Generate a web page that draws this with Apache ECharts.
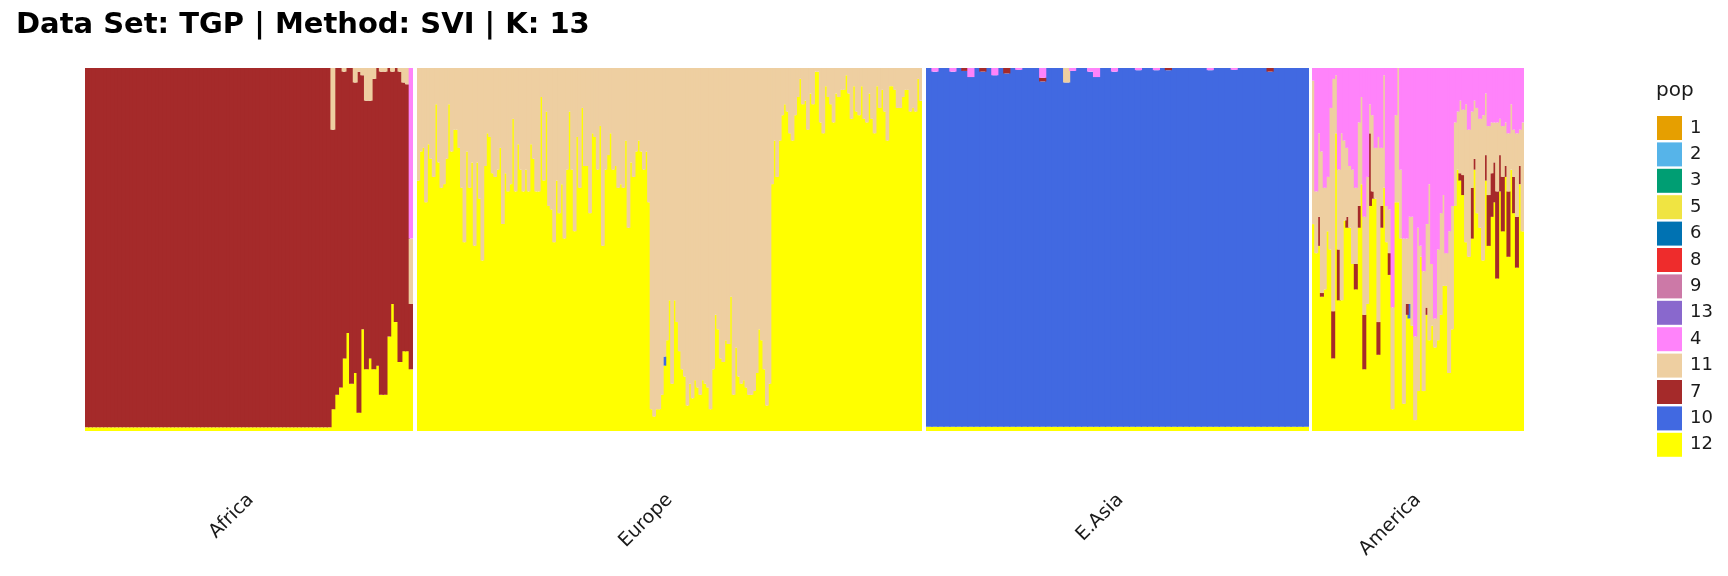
<!DOCTYPE html>
<html>
<head>
<meta charset="utf-8">
<script src="https://cdn.jsdelivr.net/npm/echarts@6/dist/echarts.min.js"></script>
<style>html,body{margin:0;padding:0;background:#fff;}#c{width:1728px;height:576px;}</style>
</head>
<body>
<div id="c"></div>
<script>
// ---------- DATA ----------
const regions = ['Africa', 'Europe', 'E.Asia', 'America'];
const legendOrder = ['1','2','3','5','6','8','9','13','4','11','7','10','12'];
const stackOrder = ['12','10','7','11','4','13','9','8','6','5','3','2','1'];
const popColors = {
  '1':'#E69F00','2':'#56B4E9','3':'#009E73','5':'#F0E442','6':'#0072B2','8':'#EE2C2C',
  '9':'#CC79A7','13':'#8968CD','4':'#FF83FA','11':'#EECFA1','7':'#A52A2A','10':'#4169E1','12':'#FFFF00'
};

// Africa (88 individuals, sampled)
const africa_k12 = [
  .01,.01,.01,.01,.01,.01,.01,.01,.01,.01,.01,.01,.01,.01,.01,.01,.01,.01,.01,.01,.01,.01,
  .01,.01,.01,.01,.01,.01,.01,.01,.01,.01,.01,.01,.01,.01,.01,.01,.01,.01,.01,.01,.01,.01,
  .01,.01,.01,.01,.01,.01,.01,.01,.01,.01,.01,.01,.01,.01,.01,.01,.01,.01,.01,.01,.01,.01,
  .06,.10,.12,.20,.27,.13,.16,.05,.28,.17,.20,.17,.18,.10,.10,.26,.35,.30,.19,.22,.22,.17];
const africa_k7 = [
  .99,.99,.99,.99,.99,.99,.99,.99,.99,.99,.99,.99,.99,.99,.99,.99,.99,.99,.99,.99,.99,.99,
  .99,.99,.99,.99,.99,.99,.99,.99,.99,.99,.99,.99,.99,.99,.99,.99,.99,.99,.99,.99,.99,.99,
  .99,.99,.99,.99,.99,.99,.99,.99,.99,.99,.99,.99,.99,.99,.99,.99,.99,.99,.99,.99,.99,.99,
  .77,.90,.88,.79,.73,.87,.80,.94,.70,.74,.71,.80,.82,.89,.89,.74,.64,.70,.80,.74,.735,.18];
const africa_k11 = [
  0,0,0,0,0,0,0,0,0,0,0,0,0,0,0,0,0,0,0,0,0,0,
  0,0,0,0,0,0,0,0,0,0,0,0,0,0,0,0,0,0,0,0,0,0,
  0,0,0,0,0,0,0,0,0,0,0,0,0,0,0,0,0,0,0,0,0,0,
  .17,0,0,.01,0,0,.04,.01,.02,.09,.09,.03,0,.01,.01,0,.01,0,.01,.04,.045,.18];
const africa_k4 = [
  0,0,0,0,0,0,0,0,0,0,0,0,0,0,0,0,0,0,0,0,0,0,
  0,0,0,0,0,0,0,0,0,0,0,0,0,0,0,0,0,0,0,0,0,0,
  0,0,0,0,0,0,0,0,0,0,0,0,0,0,0,0,0,0,0,0,0,0,
  0,0,0,0,0,0,0,0,0,0,0,0,0,0,0,0,0,0,0,0,0,.47];

// Europe (197 individuals: 91 + 47 + 59)
const europe_k12 = [
  .69,.77,.78,.63,.79,.75,.70,.90,.74,.67,
  .68,.75,.90,.77,.83,.83,.78,.67,.52,.77,
  .67,.74,.51,.74,.64,.47,.73,.82,.81,.71,
  .70,.72,.78,.57,.71,.66,.68,.86,.66,.79,
  .72,.66,.72,.66,.79,.75,.66,.66,.92,.69,
  .88,.62,.61,.52,.69,.60,.68,.53,.72,.88,
  .72,.55,.81,.67,.89,.73,.73,.60,.82,.81,
  .72,.84,.51,.72,.76,.82,.72,.73,.67,.68,
  .67,.80,.56,.74,.70,.77,.80,.77,.72,.77,.63,
  .06,.04,.06,.06,.10,.18,.25,.36,.13,.36,
  .30,.22,.17,.15,.07,.13,.09,.14,.12,.10,
  .14,.13,.12,.06,.17,.32,.28,.20,.19,.25,
  .24,.37,.10,.23,.15,.13,.14,.12,.10,.10,
  .11,.16,.28,.25,.17,.07,.13,
  .68,.80,.70,.80,.87,.90,.88,.82,.80,.87,
  .92,.97,.90,.91,.83,.93,.90,.99,.99,.85,
  .82,.95,.92,.90,.85,.93,.92,.94,.94,.98,
  .93,.86,.95,.88,.87,.95,.86,.85,.93,.86,
  .82,.95,.89,.94,.88,.80,.95,.95,.94,.89,
  .89,.92,.94,.94,.88,.89,.88,.97,.91];
const europe_k10 = [
  0,0,0,0,0,0,0,0,0,0, 0,0,0,0,0,0,0,0,0,0, 0,0,0,0,0,0,0,0,0,0,
  0,0,0,0,0,0,0,0,0,0, 0,0,0,0,0,0,0,0,0,0, 0,0,0,0,0,0,0,0,0,0,
  0,0,0,0,0,0,0,0,0,0, 0,0,0,0,0,0,0,0,0,0, 0,0,0,0,0,0,0,0,0,0,0,
  0,0,0,0,0,.025,0,0,0,0, 0,0,0,0,0,0,0,0,0,0, 0,0,0,0,0,0,0,0,0,0,
  0,0,0,0,0,0,0,0,0,0, 0,0,0,0,0,0,0,
  0,0,0,0,0,0,0,0,0,0, 0,0,0,0,0,0,0,0,0,0, 0,0,0,0,0,0,0,0,0,0,
  0,0,0,0,0,0,0,0,0,0, 0,0,0,0,0,0,0,0,0,0, 0,0,0,0,0,0,0,0,0];
const europe_k11 = [
  .31,.23,.22,.37,.21,.25,.30,.10,.26,.33,
  .32,.25,.10,.23,.17,.17,.22,.33,.48,.23,
  .33,.26,.49,.26,.36,.53,.27,.18,.19,.29,
  .30,.28,.22,.43,.29,.34,.32,.14,.34,.21,
  .28,.34,.28,.34,.21,.25,.34,.34,.08,.31,
  .12,.38,.39,.48,.31,.40,.32,.47,.28,.12,
  .28,.45,.19,.33,.11,.27,.27,.40,.18,.19,
  .28,.16,.49,.28,.24,.18,.28,.27,.33,.32,
  .33,.20,.44,.26,.30,.23,.20,.23,.28,.23,.37,
  .94,.96,.94,.94,.90,.795,.75,.64,.87,.64,
  .70,.78,.83,.85,.93,.87,.91,.86,.88,.90,
  .86,.87,.88,.94,.83,.68,.72,.80,.81,.75,
  .76,.63,.90,.77,.85,.87,.86,.88,.90,.90,
  .89,.84,.72,.75,.83,.93,.87,
  .32,.20,.30,.20,.13,.10,.12,.18,.20,.13,
  .08,.03,.10,.09,.17,.07,.10,.01,.01,.15,
  .18,.05,.08,.10,.15,.07,.08,.06,.06,.02,
  .07,.14,.05,.12,.13,.05,.14,.15,.07,.14,
  .18,.05,.11,.06,.12,.20,.05,.05,.06,.11,
  .11,.08,.06,.06,.12,.11,.12,.03,.09];

// E.Asia (64 individuals, sampled)
const easia_k12 = [
  .012,.012,.012,.012,.012,.012,.012,.012,.012,.012,.012,.012,.012,.012,.012,.012,
  .012,.012,.012,.012,.012,.012,.012,.012,.012,.012,.012,.012,.012,.012,.012,.012,
  .012,.012,.012,.012,.012,.012,.012,.012,.012,.012,.012,.012,.012,.012,.012,.012,
  .012,.012,.012,.012,.012,.012,.012,.012,.012,.012,.012,.012,.012,.012,.012,.012];
const easia_k10 = [
  .988,.978,.988,.988,.978,.988,.980,.963,.988,.978,.988,.968,.988,.973,.988,.983,
  .988,.988,.988,.951,.988,.988,.988,.948,.980,.988,.988,.978,.963,.988,.988,.978,
  .988,.988,.988,.982,.988,.988,.982,.988,.982,.988,.988,.988,.988,.988,.988,.982,
  .988,.988,.988,.983,.988,.988,.988,.988,.988,.978,.988,.988,.988,.988,.988,.988];
const easia_k7 = [
  0,0,0,0,0,0,.008,0,0,.01,0,0,0,.015,0,0,
  0,0,0,.01,0,0,0,0,0,0,0,0,0,0,0,0,
  0,0,0,0,0,0,0,0,.006,0,0,0,0,0,0,0,
  0,0,0,0,0,0,0,0,0,.01,0,0,0,0,0,0];
const easia_k11 = [
  0,0,0,0,0,0,0,0,0,0,0,0,0,0,0,0,
  0,0,0,0,0,0,0,.04,0,0,0,0,0,0,0,0,
  0,0,0,0,0,0,0,0,0,0,0,0,0,0,0,0,
  0,0,0,0,0,0,0,0,0,0,0,0,0,0,0,0];
const easia_k4 = [
  0,.01,0,0,.01,0,0,.025,0,0,0,.02,0,0,0,.005,
  0,0,0,.027,0,0,0,0,.008,0,0,.01,.025,0,0,.01,
  0,0,0,.006,0,0,.006,0,0,0,0,0,0,0,0,.006,
  0,0,0,.005,0,0,0,0,0,0,0,0,0,0,0,0];

// America (75 individuals, sampled)
const america_k12 = [
  .57,.49,.51,.37,.39,.55,.50,.20,.82,.36,.36,.58,.56,.56,.46,.39,.56,.68,.17,.35,
  .62,.64,.64,.21,.56,.67,.52,.43,.06,.63,.63,.53,.075,.32,.31,.29,.03,.11,.48,.11,
  .32,.25,.29,.23,.25,.32,.40,.40,.16,.28,.62,.72,.69,.65,.52,.48,.53,.72,.60,.56,
  .47,.69,.51,.59,.63,.42,.66,.55,.70,.48,.72,.60,.45,.68,.55];
const america_k10 = [
  0,0,0,0,0,0,0,0,0,0,0,0,0,0,0,0,0,0,0,0,
  0,0,0,0,0,0,0,0,0,0,0,0,0,0,.04,0,0,0,0,0,
  0,0,0,0,0,0,0,0,0,0,0,0,0,0,0,0,0,0,0,0,
  0,0,0,0,0,0,0,0,0,0,0,0,0,0,0];
const america_k7 = [
  0,0,.08,.01,0,0,0,.13,0,.14,0,0,.03,0,0,.07,.06,0,.15,0,
  .20,.02,0,.09,.06,0,0,.06,0,0,0,0,0,.03,0,0,0,0,0,0,
  .02,0,0,0,0,0,0,0,0,0,0,0,.02,.055,0,0,.14,.03,0,0,
  0,.07,.14,.12,.11,.24,.10,.15,.03,.18,0,.10,.14,.05,0];
const america_k11 = [
  .395,.17,.23,.39,.28,.15,.39,.64,.16,.22,.46,.22,.19,.17,.26,.21,.23,.24,.27,.35,
  .08,.21,.14,.51,.16,.31,.10,.12,.28,.24,.37,.19,.455,.18,.24,.30,.23,.45,.03,.33,
  .23,.43,.17,.08,.25,.28,.25,.09,.39,.34,.23,.16,.20,.18,.38,.35,.21,.16,.29,.30,
  .40,.17,.19,.14,.11,.19,.10,.14,.12,.16,.18,.13,.23,.10,.30];
const america_k4 = [
  .035,.34,.18,.23,.33,.30,.11,.03,.02,.28,.18,.20,.22,.27,.28,.33,.15,.08,.41,.30,
  .10,.13,.22,.19,.22,.02,.38,.39,.66,.13,0,.28,.47,.47,.41,.41,.74,.44,.49,.56,
  .43,.32,.54,.69,.50,.40,.35,.51,.45,.38,.15,.12,.09,.115,.10,.17,.12,.09,.11,.14,
  .13,.07,.16,.15,.15,.15,.14,.16,.15,.18,.10,.17,.18,.17,.15];

const panels = [
  { region: regions[0], comps: { '12': africa_k12, '7': africa_k7, '11': africa_k11, '4': africa_k4 } },
  { region: regions[1], comps: { '12': europe_k12, '10': europe_k10, '11': europe_k11 } },
  { region: regions[2], comps: { '12': easia_k12, '10': easia_k10, '7': easia_k7, '11': easia_k11, '4': easia_k4 } },
  { region: regions[3], comps: { '12': america_k12, '10': america_k10, '7': america_k7, '11': america_k11, '4': america_k4 } }
];

// ---------- LAYOUT ----------
const plotTop = 68, plotHeight = 363;
const panelBox = [ [85, 328], [417, 505], [926, 383], [1312, 212] ]; // [left, width]

const grids = [], xAxes = [], yAxes = [], series = [];
panels.forEach((p, pi) => {
  const n = p.comps['12'].length;
  const mid = Math.floor(n / 2);
  const band = panelBox[pi][1] / n;
  grids.push({ left: panelBox[pi][0], width: panelBox[pi][1], top: plotTop, height: plotHeight, containLabel: false });
  xAxes.push({
    type: 'category', gridIndex: pi,
    data: p.comps['12'].map((_, i) => p.region + '_' + (i + 1)),
    axisLine: { show: false }, axisTick: { show: false }, splitLine: { show: false },
    axisLabel: {
      interval: 0, rotate: 45, margin: 66, fontSize: 19, color: '#1a1a1a',
      fontFamily: 'DejaVu Sans',
      formatter: (v, i) => (i === mid ? p.region : '')
    }
  });
  yAxes.push({ type: 'value', gridIndex: pi, min: 0, max: 1, show: false });
  stackOrder.forEach(k => {
    series.push({
      type: 'bar', name: k, xAxisIndex: pi, yAxisIndex: pi, stack: 'p' + pi,
      barWidth: band + 1.2,
      data: p.comps[k] || [],
      itemStyle: { color: popColors[k], borderWidth: 0 },
      emphasis: { disabled: true }
    });
  });
});

const chart = echarts.init(document.getElementById('c'), null, { renderer: 'canvas' });
chart.setOption({
  animation: false,
  backgroundColor: '#ffffff',
  textStyle: { fontFamily: 'DejaVu Sans' },
  title: [
    { text: 'Data Set: TGP | Method: SVI | K: 13', left: 11, top: 6,
      textStyle: { fontSize: 29, fontWeight: 'bold', color: '#000', fontFamily: 'DejaVu Sans' } },
    { text: 'pop', left: 1651, top: 76,
      textStyle: { fontSize: 20, fontWeight: 'normal', color: '#1a1a1a', fontFamily: 'DejaVu Sans' } }
  ],
  legend: {
    orient: 'vertical', left: 1652, top: 111,
    itemWidth: 25, itemHeight: 24, itemGap: 2.4, icon: 'rect',
    data: legendOrder,
    selectedMode: false,
    textStyle: { fontSize: 18, lineHeight: 20, color: '#1a1a1a', fontFamily: 'DejaVu Sans', padding: [0, 0, 0, 3] }
  },
  grid: grids,
  xAxis: xAxes,
  yAxis: yAxes,
  series: series
});
</script>
</body>
</html>
